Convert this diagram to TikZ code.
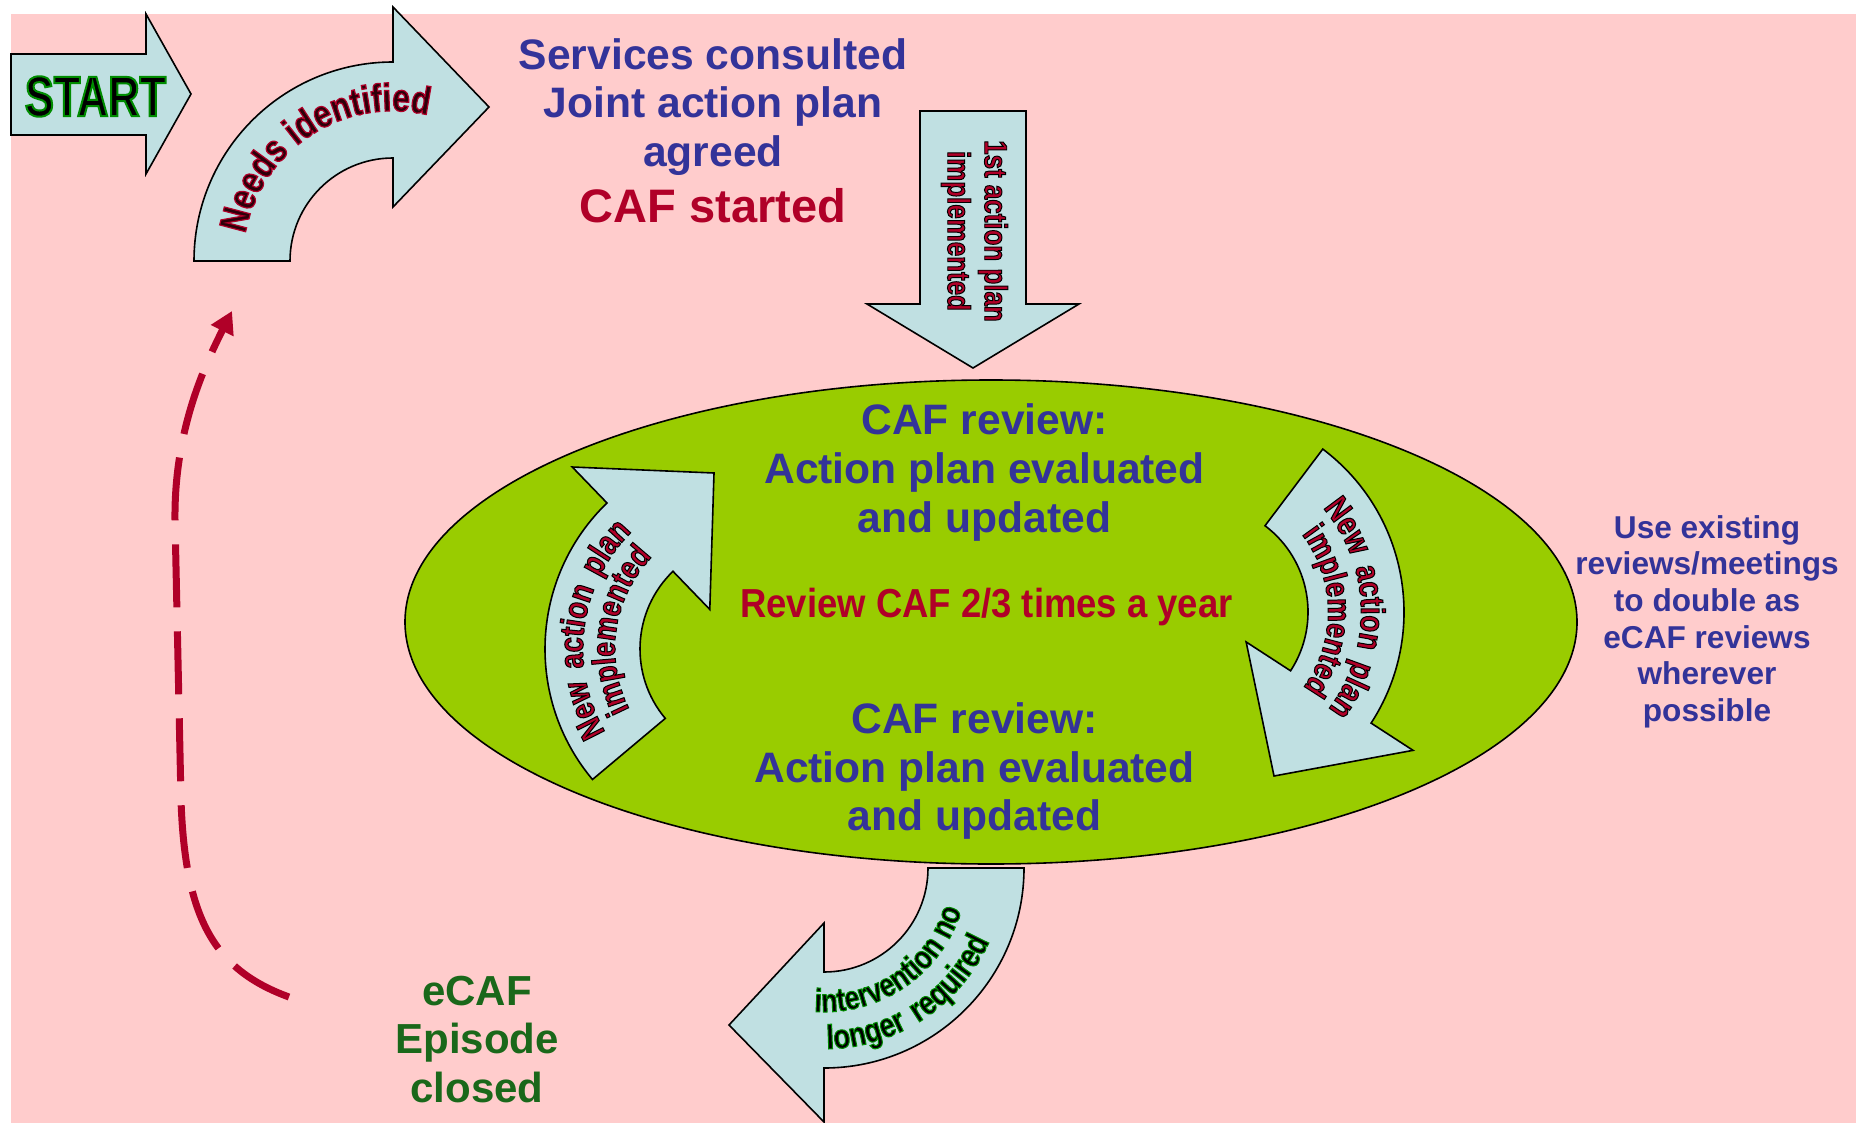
\documentclass[tikz,border=0pt]{standalone}
\usepackage{fontspec}
\setmainfont{Liberation Sans}
\newfontfamily\condoutfont{Liberation Sans}[FakeStretch=0.81,FakeBold=3]
\newfontfamily\condwidefont{Liberation Sans}[FakeStretch=0.81,FakeBold=3,LetterSpace=12]
\newfontfamily\revfont{Liberation Sans}[FakeStretch=0.9]
\newfontfamily\startoutfont{Liberation Sans}[FakeStretch=0.76,FakeBold=3.5]
\usetikzlibrary{calc,decorations.text,arrows.meta}
\definecolor{pinkbg}{RGB}{255,204,204}
\definecolor{lime}{RGB}{153,204,0}
\definecolor{arrowfill}{RGB}{192,224,226}
\definecolor{bluetext}{RGB}{51,51,153}
\definecolor{redtext}{RGB}{176,0,40}
\definecolor{greentext}{RGB}{26,104,26}
\definecolor{darkfill}{RGB}{45,0,10}
% outline (stroke) colour for the WordArt-like texts
\newcommand\strokeclr[1]{\special{pdf:literal direct #1 RG}}
% #1 centre, #2 radius, #3 start angle, #4 end angle, #5 size, #6 fill colour,
% #7 stroke rgb, #8 text, #9 font
\newcommand\myarctext[9]{%
  \path[decorate,decoration={text along path,text align=center,
    text={|#9\bfseries\fontsize{#5}{#5}\selectfont\color{#6}\strokeclr{#7}|#8}}]
    ($(#1)+(#3:#2)$) arc[start angle=#3,end angle=#4,radius=#2];}
\tikzset{
  shapeline/.style={draw=black,line width=0.8pt,fill=arrowfill,line join=miter},
  bluelbl/.style={text=bluetext,font=\bfseries\fontsize{21.3}{24}\selectfont,anchor=base,inner sep=0pt},
  redlbl/.style={text=redtext,font=\bfseries\fontsize{23.5}{26}\selectfont,anchor=base,inner sep=0pt},
  sidelbl/.style={text=bluetext,font=\bfseries\fontsize{15.8}{18}\selectfont,anchor=base,inner sep=0pt},
  greenlbl/.style={text=greentext,font=\bfseries\fontsize{21}{24}\selectfont,anchor=base,inner sep=0pt},
  dashconn/.style={draw=redtext,line width=3.5pt,dash pattern=on 31.5pt off 12pt,-{Triangle[length=11pt,width=12pt]}}
}
\begin{document}
\begin{tikzpicture}[x=0.5pt,y=-0.5pt]
\useasboundingbox (0,0) rectangle (1856,1123);
\fill[white] (0,0) rectangle (1856,1123);
\fill[pinkbg] (11,14) rectangle (1856,1123);

% START arrow
\draw[shapeline] (11,54) -- (146,54) -- (146,14) -- (191,94) -- (146,174) -- (146,135) -- (11,135) -- cycle;
\node[font=\startoutfont\bfseries\fontsize{28.5}{28.5}\selectfont,inner sep=0pt,text=black] (start) at (95.5,96.5)
  {\strokeclr{0 0.55 0}START};

% Needs identified curved arrow
\coordinate (cN) at (393,261);
\draw[shapeline] ($(cN)+(180:199)$) arc[start angle=180,end angle=270,radius=199]
  -- ($(cN)+(270:254)$) -- (489,107) -- ($(cN)+(270:54)$) -- ($(cN)+(270:103)$)
  arc[start angle=270,end angle=180,radius=103] -- cycle;
\myarctext{cN}{150}{150}{324}{19.5}{darkfill}{0.69 0 0.16}{Needs identified}{\condoutfont}

% top text
\node[bluelbl] (svc1) at (713,70) {Services consulted};
\node[bluelbl] (svc2) at (713,118) {Joint action plan};
\node[bluelbl] (svc3) at (713,167) {agreed};
\node[redlbl] (svc4) at (713,222) {CAF started};

% 1st action plan arrow
\draw[shapeline] (920,111) -- (1026,111) -- (1026,304) -- (1079,304) -- (973,368) -- (867,304) -- (920,304) -- cycle;
\node[rotate=-90,align=center,inner sep=0pt,text=redtext,font=\condoutfont\bfseries\fontsize{16}{18.5}\selectfont] (first) at (974.5,231)
  {{\color{redtext}\strokeclr{0 0 0}1st action plan}\\{\color{redtext}\strokeclr{0 0 0}implemented}};

% ellipse
\coordinate (cE) at (991,622);
\draw[fill=lime,line width=0.8pt] (cE) ellipse [x radius=586,y radius=242];

% left inner curved arrow
\coordinate (cL) at (748,649);
\draw[shapeline] ($(cL)+(140:203)$) arc[start angle=140,end angle=226,radius=203]
  -- ($(cL)+(226:253)$) -- (714,473) -- ($(cL)+(226:55)$) -- ($(cL)+(226:108)$)
  arc[start angle=226,end angle=140,radius=108] -- cycle;
\myarctext{cL}{165}{120}{255}{17}{redtext}{0 0 0}{New action plan}{\condwidefont}
\myarctext{cL}{133}{122}{255}{16.5}{redtext}{0 0 0}{implemented}{\condoutfont}

% right inner curved arrow
\coordinate (cR) at (1200,612);
\draw[shapeline] ($(cR)+(-53:204)$) arc[start angle=-53,end angle=33,radius=204]
  -- ($(cR)+(33:254)$) -- (1274,776) -- ($(cR)+(33:55)$) -- ($(cR)+(33:108)$)
  arc[start angle=33,end angle=-53,radius=108] -- cycle;
\myarctext{cR}{161}{-70}{67}{17}{redtext}{0 0 0}{New action plan}{\condwidefont}
\myarctext{cR}{128}{-70}{69}{16.5}{redtext}{0 0 0}{implemented}{\condoutfont}

% centre texts
\node[bluelbl] (rta) at (984.5,434) {CAF review:};
\node[bluelbl] (rtb) at (984.5,483) {Action plan evaluated};
\node[bluelbl] (rtc) at (984.5,532) {and updated};
\node[anchor=base,inner sep=0pt,text=redtext,font=\revfont\bfseries\fontsize{20.25}{22}\selectfont] (often) at (986.5,617) {Review CAF 2/3 times a year};
\node[bluelbl] (rba) at (974.5,733) {CAF review:};
\node[bluelbl] (rbb) at (974.5,782) {Action plan evaluated};
\node[bluelbl] (rbc) at (974.5,830) {and updated};

% side note
\node[sidelbl] (s1) at (1707,538) {Use existing};
\node[sidelbl] (s2) at (1707,574) {reviews/meetings};
\node[sidelbl] (s3) at (1707,611) {to double as};
\node[sidelbl] (s4) at (1707,648) {eCAF reviews};
\node[sidelbl] (s5) at (1707,684) {wherever};
\node[sidelbl] (s6) at (1707,721) {possible};

% bottom curved arrow
\coordinate (cB) at (824,868);
\draw[shapeline] ($(cB)+(0:104)$) arc[start angle=0,end angle=90,radius=104]
  -- ($(cB)+(90:55)$) -- (729,1025) -- ($(cB)+(90:254)$) -- ($(cB)+(90:200)$)
  arc[start angle=90,end angle=0,radius=200] -- cycle;
\myarctext{cB}{144}{125}{-14}{16.5}{black}{0 0.55 0}{intervention no}{\condoutfont}
\myarctext{cB}{181}{125}{-12}{17}{black}{0 0.55 0}{longer required}{\condwidefont}

% eCAF closed
\node[greenlbl] (e1) at (477,1005) {eCAF};
\node[greenlbl] (e2) at (477,1053) {Episode};
\node[greenlbl] (e3) at (477,1102) {closed};

% dashed return connector
\coordinate (loopstart) at (289,997);
\coordinate (loopend) at (232,311);
\draw[dashconn] (loopstart) .. controls (215,970) and (185,920) .. (181,800)
  -- (175,520) .. controls (174,430) and (205,365) .. (loopend);
\end{tikzpicture}
\end{document}
